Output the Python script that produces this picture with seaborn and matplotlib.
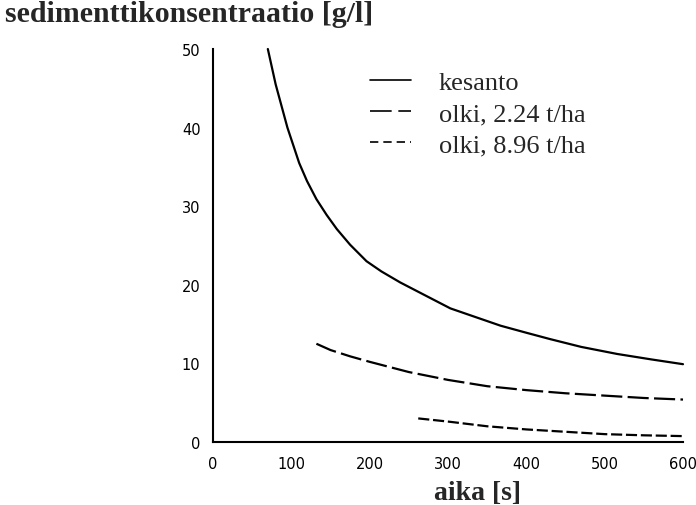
import matplotlib
matplotlib.use("Agg")
import matplotlib.pyplot as plt
from matplotlib.lines import Line2D
import seaborn as sns
import pandas as pd

# data
t_kesanto = [70, 80, 95, 110, 120, 132, 145, 158, 175, 196, 215, 239, 270, 303, 335, 367, 400, 430, 470, 516, 560, 600]
c_kesanto = [50, 45.5, 40, 35.5, 33.2, 30.9, 28.9, 27.1, 25.1, 23.0, 21.7, 20.3, 18.7, 17.0, 15.9, 14.8, 13.9, 13.1, 12.1, 11.2, 10.5, 9.9]
t_olki224 = [132, 150, 175, 200, 250, 300, 350, 400, 450, 500, 550, 600]
c_olki224 = [12.5, 11.7, 10.9, 10.2, 8.9, 7.9, 7.1, 6.6, 6.2, 5.9, 5.6, 5.4]
t_olki896 = [262, 300, 350, 400, 450, 500, 550, 600]
c_olki896 = [3.0, 2.6, 2.0, 1.6, 1.3, 1.0, 0.85, 0.75]
series_names = ["kesanto", "olki, 2.24 t/ha", "olki, 8.96 t/ha"]
x_ticks = [0, 100, 200, 300, 400, 500, 600]
y_ticks = [0, 10, 20, 30, 40, 50]

df = pd.concat([
    pd.DataFrame({"aika": t_kesanto, "c": c_kesanto, "sarja": series_names[0]}),
    pd.DataFrame({"aika": t_olki224, "c": c_olki224, "sarja": series_names[1]}),
    pd.DataFrame({"aika": t_olki896, "c": c_olki896, "sarja": series_names[2]}),
])

sns.set_style("white")
plt.rcParams["font.family"] = ["DejaVu Sans"]

fig = plt.figure(figsize=(6.96, 5.06), dpi=100)
ax = fig.add_axes([213/696, 1-443/506, 470/696, 393/506])

dashes = {series_names[0]: "", series_names[1]: (9.5, 2.4), series_names[2]: (5.0, 1.7)}
sns.lineplot(data=df, x="aika", y="c", style="sarja", dashes=dashes,
             color="black", linewidth=1.6, ax=ax, legend=False, sort=True)
for ln in ax.lines:
    ln.set_clip_on(False)

ax.set_xlim(0, 600)
ax.set_ylim(0, 50)
ax.set_xticks(x_ticks)
ax.set_yticks(y_ticks)
ax.tick_params(axis="both", direction="out", width=1.1, color="black",
               labelsize=10.5, labelcolor="black")
ax.tick_params(axis="y", length=8, pad=1)
ax.tick_params(axis="x", length=8, pad=2)
for s in ["top", "right"]:
    ax.spines[s].set_visible(False)
for s in ["left", "bottom"]:
    ax.spines[s].set_color("black")
    ax.spines[s].set_linewidth(1.5)
ax.set_xlabel("")
ax.set_ylabel("")

handles = [Line2D([], [], color="black", lw=1.2, linestyle="-"),
           Line2D([], [], color="black", lw=1.2, dashes=(13, 4)),
           Line2D([], [], color="black", lw=1.2, dashes=(5, 3))]
leg = ax.legend(handles, series_names, loc="upper left",
                bbox_to_anchor=((370-213)/470, (443-72)/393),
                frameon=False, handlelength=1.55, handletextpad=1.05,
                labelspacing=0.28, borderpad=0, borderaxespad=0,
                prop={"family": "Liberation Serif", "size": 19})

fig.text(5/696, 1-15/506, "sedimenttikonsentraatio [g/l]", family="Liberation Serif",
         fontweight="bold", fontsize=21.5, ha="left", va="center")
fig.text(478/696, 1-494/506, "aika [s]", family="Liberation Serif",
         fontweight="bold", fontsize=20, ha="center", va="center")

fig.savefig("out.png", dpi=100, facecolor="white")
